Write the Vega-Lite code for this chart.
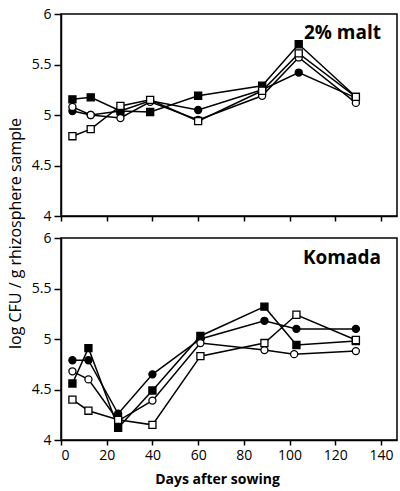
{
  "$schema": "https://vega.github.io/schema/vega-lite/v6.json",
  "padding": {"left": 6, "top": 6, "right": 0, "bottom": 0},
  "background": "white",
  "bounds": "flush",
  "config": {
    "font": "Open Sans",
    "view": {"stroke": "black", "strokeWidth": 1.5},
    "axis": {
      "grid": false,
      "domainColor": "black",
      "domainWidth": 1.5,
      "tickColor": "black",
      "tickWidth": 1.5,
      "labelFont": "Open Sans",
      "labelFontSize": 14,
      "labelColor": "black",
      "titleFont": "Open Sans",
      "titleColor": "black"
    }
  },
  "datasets": {
    "obs": [
      {"panel": "malt", "series": "s1", "day": 5, "value": 5.155},
      {"panel": "malt", "series": "s1", "day": 13, "value": 5.175},
      {"panel": "malt", "series": "s1", "day": 26, "value": 5.04},
      {"panel": "malt", "series": "s1", "day": 39, "value": 5.03},
      {"panel": "malt", "series": "s1", "day": 60, "value": 5.19},
      {"panel": "malt", "series": "s1", "day": 88, "value": 5.29},
      {"panel": "malt", "series": "s1", "day": 104, "value": 5.70},
      {"panel": "malt", "series": "s1", "day": 129, "value": 5.18},
      {"panel": "malt", "series": "s2", "day": 5, "value": 5.04},
      {"panel": "malt", "series": "s2", "day": 13, "value": 5.0},
      {"panel": "malt", "series": "s2", "day": 26, "value": 5.04},
      {"panel": "malt", "series": "s2", "day": 39, "value": 5.14},
      {"panel": "malt", "series": "s2", "day": 60, "value": 5.05},
      {"panel": "malt", "series": "s2", "day": 88, "value": 5.25},
      {"panel": "malt", "series": "s2", "day": 104, "value": 5.42},
      {"panel": "malt", "series": "s2", "day": 129, "value": 5.17},
      {"panel": "malt", "series": "s3", "day": 5, "value": 5.08},
      {"panel": "malt", "series": "s3", "day": 13, "value": 5.0},
      {"panel": "malt", "series": "s3", "day": 26, "value": 4.97},
      {"panel": "malt", "series": "s3", "day": 39, "value": 5.13},
      {"panel": "malt", "series": "s3", "day": 60, "value": 4.95},
      {"panel": "malt", "series": "s3", "day": 88, "value": 5.19},
      {"panel": "malt", "series": "s3", "day": 104, "value": 5.57},
      {"panel": "malt", "series": "s3", "day": 129, "value": 5.12},
      {"panel": "malt", "series": "s4", "day": 5, "value": 4.79},
      {"panel": "malt", "series": "s4", "day": 13, "value": 4.86},
      {"panel": "malt", "series": "s4", "day": 26, "value": 5.09},
      {"panel": "malt", "series": "s4", "day": 39, "value": 5.15},
      {"panel": "malt", "series": "s4", "day": 60, "value": 4.94},
      {"panel": "malt", "series": "s4", "day": 88, "value": 5.24},
      {"panel": "malt", "series": "s4", "day": 104, "value": 5.61},
      {"panel": "malt", "series": "s4", "day": 129, "value": 5.18},
      {"panel": "komada", "series": "s1", "day": 5, "value": 4.56},
      {"panel": "komada", "series": "s1", "day": 12, "value": 4.91},
      {"panel": "komada", "series": "s1", "day": 25, "value": 4.12},
      {"panel": "komada", "series": "s1", "day": 40, "value": 4.49},
      {"panel": "komada", "series": "s1", "day": 61, "value": 5.03},
      {"panel": "komada", "series": "s1", "day": 89, "value": 5.32},
      {"panel": "komada", "series": "s1", "day": 103, "value": 4.94},
      {"panel": "komada", "series": "s1", "day": 129, "value": 4.98},
      {"panel": "komada", "series": "s2", "day": 5, "value": 4.79},
      {"panel": "komada", "series": "s2", "day": 12, "value": 4.79},
      {"panel": "komada", "series": "s2", "day": 25, "value": 4.26},
      {"panel": "komada", "series": "s2", "day": 40, "value": 4.65},
      {"panel": "komada", "series": "s2", "day": 61, "value": 5.0},
      {"panel": "komada", "series": "s2", "day": 89, "value": 5.18},
      {"panel": "komada", "series": "s2", "day": 103, "value": 5.10},
      {"panel": "komada", "series": "s2", "day": 129, "value": 5.10},
      {"panel": "komada", "series": "s3", "day": 5, "value": 4.68},
      {"panel": "komada", "series": "s3", "day": 12, "value": 4.60},
      {"panel": "komada", "series": "s3", "day": 25, "value": 4.19},
      {"panel": "komada", "series": "s3", "day": 40, "value": 4.39},
      {"panel": "komada", "series": "s3", "day": 61, "value": 4.96},
      {"panel": "komada", "series": "s3", "day": 89, "value": 4.89},
      {"panel": "komada", "series": "s3", "day": 102, "value": 4.85},
      {"panel": "komada", "series": "s3", "day": 129, "value": 4.88},
      {"panel": "komada", "series": "s4", "day": 5, "value": 4.40},
      {"panel": "komada", "series": "s4", "day": 12, "value": 4.29},
      {"panel": "komada", "series": "s4", "day": 25, "value": 4.20},
      {"panel": "komada", "series": "s4", "day": 40, "value": 4.15},
      {"panel": "komada", "series": "s4", "day": 61, "value": 4.83},
      {"panel": "komada", "series": "s4", "day": 89, "value": 4.96},
      {"panel": "komada", "series": "s4", "day": 103, "value": 5.24},
      {"panel": "komada", "series": "s4", "day": 129, "value": 4.99}
    ],
    "labels": [
      {"panel": "malt", "label": "2% malt", "day": 140, "value": 5.81},
      {"panel": "komada", "label": "Komada", "day": 140, "value": 5.80}
    ]
  },
  "spacing": 22,
  "vconcat": [
    {
      "width": 336,
      "height": 202,
      "layer": [
        {
          "data": {"name": "obs"},
          "transform": [{"filter": "datum.panel === 'malt'"}],
          "mark": {"type": "line", "color": "black", "strokeWidth": 1.5},
          "encoding": {
            "x": {"field": "day", "type": "quantitative", "scale": {"domain": [0, 147], "nice": false},
                  "axis": {"values": [0, 20, 40, 60, 80, 100, 120, 140], "labels": false, "title": null, "tickSize": 5}},
            "y": {"field": "value", "type": "quantitative", "scale": {"domain": [4, 6], "nice": false},
                  "axis": {"values": [4, 4.5, 5, 5.5, 6], "format": "~g", "title": null, "tickSize": 7, "labelPadding": 3}},
            "detail": {"field": "series"}
          }
        },
        {
          "data": {"name": "obs"},
          "transform": [{"filter": "datum.panel === 'malt'"}],
          "mark": {"type": "point", "filled": true, "stroke": "black", "strokeWidth": 1.3, "size": 50, "opacity": 1},
          "encoding": {
            "x": {"field": "day", "type": "quantitative"},
            "y": {"field": "value", "type": "quantitative"},
            "shape": {"field": "series", "scale": {"domain": ["s1", "s2", "s3", "s4"], "range": ["square", "circle", "circle", "square"]}, "legend": null},
            "fill": {"field": "series", "scale": {"domain": ["s1", "s2", "s3", "s4"], "range": ["black", "black", "white", "white"]}, "legend": null}
          }
        },
        {
          "data": {"name": "labels"},
          "transform": [{"filter": "datum.panel === 'malt'"}],
          "mark": {"type": "text", "align": "right", "baseline": "middle", "fontSize": 19, "fontWeight": "bold", "font": "Open Sans", "color": "black"},
          "encoding": {
            "x": {"field": "day", "type": "quantitative"},
            "y": {"field": "value", "type": "quantitative"},
            "text": {"field": "label"}
          }
        }
      ]
    },
    {
      "width": 336,
      "height": 202,
      "layer": [
        {
          "data": {"name": "obs"},
          "transform": [{"filter": "datum.panel === 'komada'"}],
          "mark": {"type": "line", "color": "black", "strokeWidth": 1.5},
          "encoding": {
            "x": {"field": "day", "type": "quantitative", "scale": {"domain": [0, 147], "nice": false},
                  "axis": {"values": [0, 20, 40, 60, 80, 100, 120, 140], "title": "Days after sowing", "tickSize": 5, "labelPadding": 3,
                           "titleFontSize": 14, "titleFontWeight": "bold", "titleX": 156, "titleY": 43, "titleBaseline": "alphabetic"}},
            "y": {"field": "value", "type": "quantitative", "scale": {"domain": [4, 6], "nice": false},
                  "axis": {"values": [4, 4.5, 5, 5.5, 6], "format": "~g", "tickSize": 7, "labelPadding": 3,
                           "title": "log CFU / g rhizosphere sample", "titleFontSize": 16, "titleFontWeight": "normal",
                           "titleAngle": -90, "titleAlign": "center", "titleBaseline": "middle", "titleX": -46, "titleY": -5}},
            "detail": {"field": "series"}
          }
        },
        {
          "data": {"name": "obs"},
          "transform": [{"filter": "datum.panel === 'komada'"}],
          "mark": {"type": "point", "filled": true, "stroke": "black", "strokeWidth": 1.3, "size": 50, "opacity": 1},
          "encoding": {
            "x": {"field": "day", "type": "quantitative"},
            "y": {"field": "value", "type": "quantitative"},
            "shape": {"field": "series", "scale": {"domain": ["s1", "s2", "s3", "s4"], "range": ["square", "circle", "circle", "square"]}, "legend": null},
            "fill": {"field": "series", "scale": {"domain": ["s1", "s2", "s3", "s4"], "range": ["black", "black", "white", "white"]}, "legend": null}
          }
        },
        {
          "data": {"name": "labels"},
          "transform": [{"filter": "datum.panel === 'komada'"}],
          "mark": {"type": "text", "align": "right", "baseline": "middle", "fontSize": 19, "fontWeight": "bold", "font": "Open Sans", "color": "black"},
          "encoding": {
            "x": {"field": "day", "type": "quantitative"},
            "y": {"field": "value", "type": "quantitative"},
            "text": {"field": "label"}
          }
        }
      ]
    }
  ]
}
